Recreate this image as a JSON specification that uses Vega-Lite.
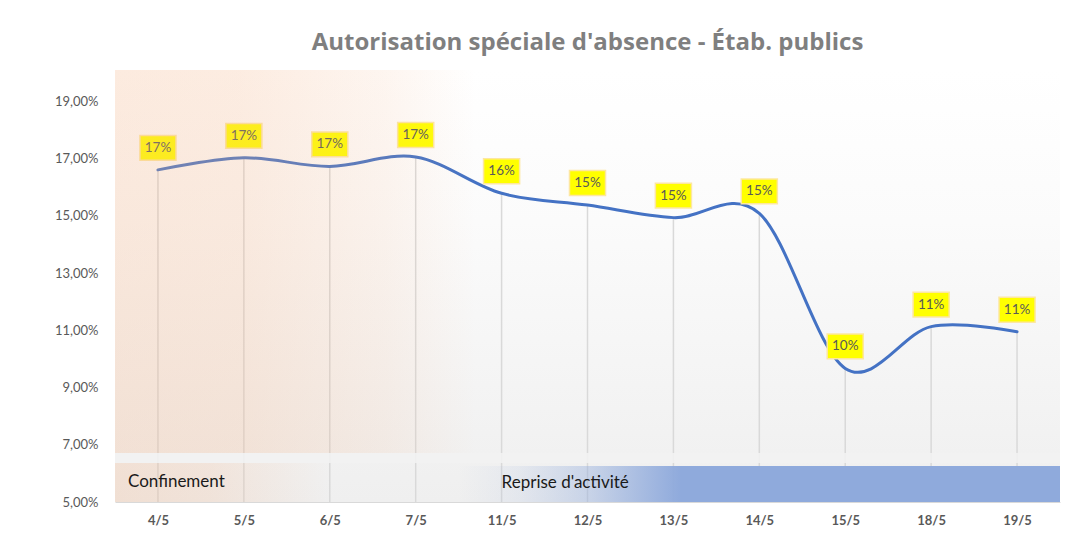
{
  "$schema": "https://vega.github.io/schema/vega-lite/v6.json",
  "autosize": {"type": "none"},
  "width": 945,
  "height": 432,
  "padding": {"left": 115, "top": 70, "right": 8, "bottom": 31},
  "background": "#ffffff",
  "title": {
    "text": "Autorisation  spéciale  d'absence - Étab. publics",
    "font": "Open Sans",
    "fontSize": 24,
    "fontWeight": "bold",
    "color": "#7f7f7f",
    "anchor": "middle",
    "offset": 15
  },
  "config": {
    "font": "Lato",
    "view": {"stroke": null},
    "locale": {
      "number": {"decimal": ",", "thousands": " ", "grouping": [3], "currency": ["", " €"]}
    }
  },
  "datasets": {
    "main": [
      {"date": "4/5", "i": 0, "v": 0.1661},
      {"date": "5/5", "i": 1, "v": 0.1703},
      {"date": "6/5", "i": 2, "v": 0.1673},
      {"date": "7/5", "i": 3, "v": 0.1706},
      {"date": "11/5", "i": 4, "v": 0.1579},
      {"date": "12/5", "i": 5, "v": 0.1538},
      {"date": "13/5", "i": 6, "v": 0.1494},
      {"date": "14/5", "i": 7, "v": 0.1509},
      {"date": "15/5", "i": 8, "v": 0.0967},
      {"date": "18/5", "i": 9, "v": 0.1113},
      {"date": "19/5", "i": 10, "v": 0.1095}
    ],
    "zones": [
      {"zone": "fond", "x": -0.5, "x2": 10.5, "y": 0.05, "y2": 0.201},
      {"zone": "confinement_haut", "x": -0.5, "x2": 3.7, "y": 0.06715, "y2": 0.201},
      {"zone": "separateur", "x": -0.5, "x2": 10.5, "y": 0.06365, "y2": 0.06715},
      {"zone": "confinement_bas", "x": -0.5, "x2": 2.0, "y": 0.05, "y2": 0.06365},
      {"zone": "reprise", "x": 3.5, "x2": 10.5, "y": 0.05, "y2": 0.06258}
    ],
    "etiquettes": [
      {"label": "Confinement", "x": -0.5, "y": 0.0570},
      {"label": "Reprise d'activité", "x": 4, "y": 0.0568}
    ]
  },
  "layer": [
    {
      "data": {"name": "zones"},
      "transform": [{"filter": "datum.zone === 'fond'"}],
      "mark": {
        "type": "rect",
        "fill": {
          "gradient": "linear", "x1": 0, "y1": 0, "x2": 0, "y2": 1,
          "stops": [
            {"offset": 0, "color": "#ffffff"},
            {"offset": 0.35, "color": "#fbfbfb"},
            {"offset": 1, "color": "#efefef"}
          ]
        }
      },
      "encoding": {
        "x": {"field": "x", "type": "quantitative", "scale": {"domain": [-0.5, 10.5], "nice": false, "zero": false},
          "axis": {
            "title": null,
            "values": [0, 1, 2, 3, 4, 5, 6, 7, 8, 9, 10],
            "labelExpr": "['4/5','5/5','6/5','7/5','11/5','12/5','13/5','14/5','15/5','18/5','19/5'][datum.value]",
            "grid": false, "ticks": false, "domain": true, "domainColor": "#d9d9d9", "domainWidth": 1,
            "labelFont": "Lato", "labelFontSize": 13, "labelFontWeight": "bold", "labelColor": "#595959", "labelPadding": 12
          }
        },
        "x2": {"field": "x2"},
        "y": {"field": "y", "type": "quantitative", "scale": {"domain": [0.05, 0.201], "nice": false, "zero": false},
          "axis": {
            "title": null,
            "values": [0.05, 0.07, 0.09, 0.11, 0.13, 0.15, 0.17, 0.19],
            "format": ".2%",
            "grid": false, "ticks": false, "domain": false,
            "labelFont": "Lato", "labelFontSize": 13, "labelColor": "#595959", "labelPadding": 17
          }
        },
        "y2": {"field": "y2"}
      }
    },
    {
      "data": {"name": "main"},
      "mark": {"type": "rule", "color": "#d9d9d9", "strokeWidth": 1.5},
      "encoding": {
        "x": {"field": "i", "type": "quantitative"},
        "y": {"field": "v", "type": "quantitative"},
        "y2": {"datum": 0.05}
      }
    },
    {
      "data": {"name": "main"},
      "mark": {"type": "line", "interpolate": "cardinal", "color": "#4472c4", "strokeWidth": 3, "strokeCap": "round"},
      "encoding": {
        "x": {"field": "i", "type": "quantitative"},
        "y": {"field": "v", "type": "quantitative"}
      }
    },
    {
      "data": {"name": "main"},
      "mark": {
        "type": "point",
        "shape": "M-1,-0.69L1,-0.69L1,0.69L-1,0.69Z",
        "size": 1300,
        "filled": true,
        "fill": "#ffff00",
        "fillOpacity": 1,
        "stroke": "#fde7a0",
        "strokeWidth": 1.5,
        "opacity": 1,
        "yOffset": -22
      },
      "encoding": {
        "x": {"field": "i", "type": "quantitative"},
        "y": {"field": "v", "type": "quantitative"}
      }
    },
    {
      "data": {"name": "main"},
      "mark": {"type": "text", "font": "Lato", "fontSize": 13.5, "color": "#595959", "baseline": "middle", "align": "center", "yOffset": -22},
      "encoding": {
        "x": {"field": "i", "type": "quantitative"},
        "y": {"field": "v", "type": "quantitative"},
        "text": {"field": "v", "type": "quantitative", "format": ".0%"}
      }
    },
    {
      "data": {"name": "zones"},
      "transform": [{"filter": "datum.zone === 'confinement_haut'"}],
      "mark": {
        "type": "rect",
        "fill": {
          "gradient": "linear", "x1": 0, "y1": 0, "x2": 1, "y2": 0,
          "stops": [
            {"offset": 0, "color": "rgba(244,177,131,0.26)"},
            {"offset": 0.35, "color": "rgba(244,177,131,0.24)"},
            {"offset": 0.75, "color": "rgba(244,177,131,0.12)"},
            {"offset": 1, "color": "rgba(244,177,131,0)"}
          ]
        }
      },
      "encoding": {
        "x": {"field": "x", "type": "quantitative"},
        "x2": {"field": "x2"},
        "y": {"field": "y", "type": "quantitative"},
        "y2": {"field": "y2"}
      }
    },
    {
      "data": {"name": "zones"},
      "transform": [{"filter": "datum.zone === 'separateur'"}],
      "mark": {"type": "rect", "fill": "#f2f2f2", "fillOpacity": 0.85},
      "encoding": {
        "x": {"field": "x", "type": "quantitative"},
        "x2": {"field": "x2"},
        "y": {"field": "y", "type": "quantitative"},
        "y2": {"field": "y2"}
      }
    },
    {
      "data": {"name": "zones"},
      "transform": [{"filter": "datum.zone === 'confinement_bas'"}],
      "mark": {
        "type": "rect",
        "fill": {
          "gradient": "linear", "x1": 0, "y1": 0, "x2": 1, "y2": 0,
          "stops": [
            {"offset": 0, "color": "rgba(244,177,131,0.26)"},
            {"offset": 0.45, "color": "rgba(244,177,131,0.2)"},
            {"offset": 1, "color": "rgba(244,177,131,0)"}
          ]
        }
      },
      "encoding": {
        "x": {"field": "x", "type": "quantitative"},
        "x2": {"field": "x2"},
        "y": {"field": "y", "type": "quantitative"},
        "y2": {"field": "y2"}
      }
    },
    {
      "data": {"name": "zones"},
      "transform": [{"filter": "datum.zone === 'reprise'"}],
      "mark": {
        "type": "rect",
        "fill": {
          "gradient": "linear", "x1": 0, "y1": 0, "x2": 1, "y2": 0,
          "stops": [
            {"offset": 0, "color": "rgba(143,170,220,0)"},
            {"offset": 0.1, "color": "rgba(143,170,220,0.12)"},
            {"offset": 0.22, "color": "rgba(143,170,220,0.42)"},
            {"offset": 0.37, "color": "rgba(143,170,220,1)"},
            {"offset": 1, "color": "rgba(143,170,220,1)"}
          ]
        }
      },
      "encoding": {
        "x": {"field": "x", "type": "quantitative"},
        "x2": {"field": "x2"},
        "y": {"field": "y", "type": "quantitative"},
        "y2": {"field": "y2"}
      }
    },
    {
      "data": {"name": "etiquettes"},
      "transform": [{"filter": "datum.label === 'Confinement'"}],
      "mark": {"type": "text", "font": "Lato", "fontSize": 17, "color": "#1a1a1a", "align": "left", "baseline": "middle", "dx": 13},
      "encoding": {
        "x": {"field": "x", "type": "quantitative"},
        "y": {"field": "y", "type": "quantitative"},
        "text": {"field": "label"}
      }
    },
    {
      "data": {"name": "etiquettes"},
      "transform": [{"filter": "datum.label !== 'Confinement'"}],
      "mark": {"type": "text", "font": "Lato", "fontSize": 17, "color": "#1a1a1a", "align": "left", "baseline": "middle"},
      "encoding": {
        "x": {"field": "x", "type": "quantitative"},
        "y": {"field": "y", "type": "quantitative"},
        "text": {"field": "label"}
      }
    }
  ]
}
